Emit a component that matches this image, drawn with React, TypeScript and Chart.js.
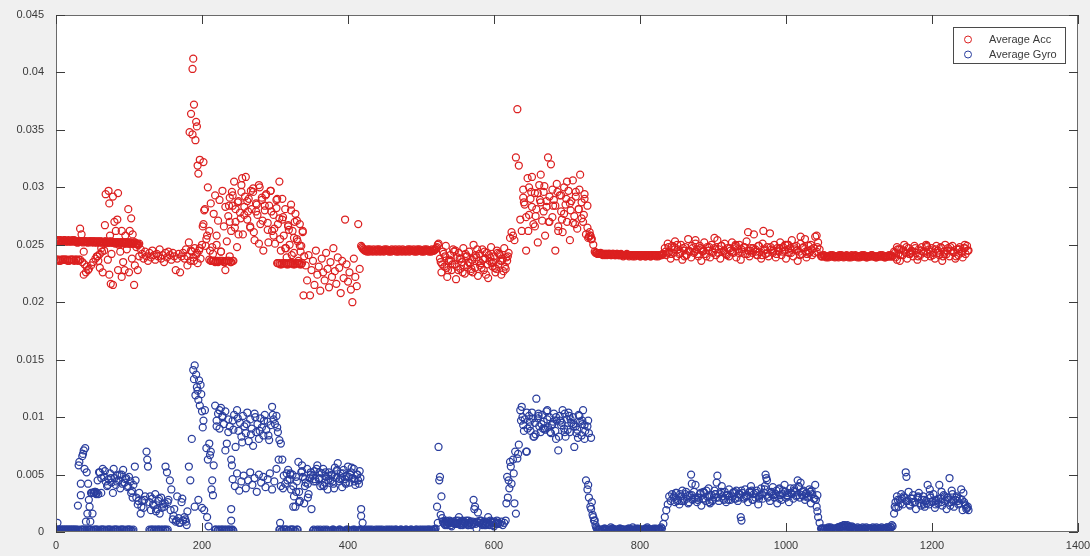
import React, { useEffect, useRef } from "react";
import { Chart, registerables } from "chart.js";

Chart.register(...registerables);

// ---------- data ----------
const SERIES_LABELS = ["Average Acc", "Average Gyro"];
const X_TICKS = [0, 200, 400, 600, 800, 1000, 1200, 1400];
const Y_TICKS = [0, 0.005, 0.01, 0.015, 0.02, 0.025, 0.03, 0.035, 0.04, 0.045];
const SAMPLE_STEP = 2; // main arrays hold one sample every 2 indices, starting at 0

const accY = [
  // 0-114
  0.0254,0.0254,0.0253,0.0254,0.0253,0.0253,0.0254,0.0253,0.0253,0.0253,
  0.0253,0.0254,0.0253,0.0253,0.0253,0.0252,0.0253,0.0253,0.0253,0.0253,
  0.0253,0.0253,0.0252,0.0253,0.0253,0.0253,0.0252,0.0253,0.0252,0.0253,
  0.0252,0.0253,0.0252,0.0252,0.0253,0.0252,0.0252,0.0252,0.0253,0.0252,
  0.0252,0.0252,0.0252,0.0251,0.0252,0.0252,0.0252,0.0251,0.0252,0.0252,
  0.0251,0.0252,0.0251,0.0251,0.0252,0.0251,0.0250,0.0251,
  // 116-172
  0.0246,0.0242,0.0238,0.0244,0.0240,0.0236,0.0243,0.0239,0.0245,0.0241,
  0.0237,0.0242,0.0240,0.0246,0.0238,0.0241,0.0235,0.0243,0.0239,0.0244,
  0.0241,0.0237,0.0243,0.0240,0.0228,0.0238,0.0242,0.0226,0.0240,
  // 174-200
  0.0243,0.0238,0.0246,0.0240,0.0252,0.0236,0.0244,0.0239,0.0247,0.0241,0.0234,0.0245,0.0238,0.0250,
  // 202-234
  0.0268,0.0281,0.0255,0.0300,0.0262,0.0286,0.0248,0.0277,0.0293,0.0258,0.0271,0.0289,0.0244,0.0297,0.0266,0.0283,0.0253,
  // 236-290
  0.0275,0.0291,0.0262,0.0284,0.0305,0.0270,0.0248,0.0288,0.0278,0.0296,
  0.0259,0.0283,0.0309,0.0272,0.0290,0.0265,0.0281,0.0299,0.0254,0.0286,
  0.0276,0.0302,0.0268,0.0289,0.0245,0.0280,0.0294,0.0263,
  // 292-340
  0.0284,0.0297,0.0262,0.0276,0.0251,0.0289,0.0268,0.0305,0.0245,0.0272,
  0.0258,0.0281,0.0239,0.0266,0.0250,0.0285,0.0262,0.0243,0.0277,0.0255,
  0.0236,0.0268,0.0249,0.0261,0.0240,
  // 342-416
  0.0232,0.0219,0.0241,0.0206,0.0228,0.0236,0.0215,0.0245,0.0224,0.0231,
  0.0210,0.0238,0.0226,0.0219,0.0243,0.0229,0.0213,0.0235,0.0222,0.0247,
  0.0227,0.0216,0.0239,0.0230,0.0208,0.0236,0.0221,0.0272,0.0233,0.0218,
  0.0226,0.0211,0.0200,0.0238,0.0222,0.0214,0.0268,0.0229,
  // 418-524
  0.0249,0.0247,0.0246,0.0245,0.0244,0.0245,0.0246,0.0245,0.0244,0.0245,
  0.0245,0.0246,0.0245,0.0244,0.0245,0.0245,0.0246,0.0245,0.0245,0.0244,
  0.0245,0.0246,0.0245,0.0245,0.0244,0.0245,0.0246,0.0245,0.0244,0.0245,
  0.0245,0.0245,0.0246,0.0244,0.0245,0.0245,0.0246,0.0245,0.0244,0.0245,
  0.0246,0.0245,0.0245,0.0244,0.0245,0.0246,0.0245,0.0245,0.0244,0.0245,
  0.0245,0.0246,0.0248,0.0251,
  // 526-620
  0.0238,0.0226,0.0244,0.0231,0.0249,0.0222,0.0236,0.0241,0.0228,0.0246,
  0.0233,0.0220,0.0239,0.0243,0.0229,0.0235,0.0247,0.0225,0.0240,0.0232,
  0.0244,0.0227,0.0237,0.0250,0.0230,0.0239,0.0223,0.0242,0.0234,0.0246,
  0.0228,0.0238,0.0243,0.0221,0.0236,0.0248,0.0231,0.0240,0.0226,0.0245,
  0.0233,0.0241,0.0224,0.0238,0.0247,0.0229,0.0236,0.0243,
  // 622-636
  0.0256,0.0261,0.0258,0.0254,0.0326,0.0368,0.0319,0.0272,
  // 638-736
  0.0262,0.0298,0.0285,0.0245,0.0308,0.0276,0.0290,0.0309,0.0268,0.0295,
  0.0281,0.0252,0.0302,0.0287,0.0271,0.0296,0.0258,0.0283,0.0326,0.0292,
  0.0320,0.0274,0.0289,0.0245,0.0303,0.0266,0.0293,0.0279,0.0261,0.0300,
  0.0285,0.0270,0.0297,0.0254,0.0288,0.0306,0.0275,0.0292,0.0264,0.0281,
  0.0311,0.0287,0.0270,0.0294,0.0259,0.0284,0.0257,0.0258,0.0255,0.0250,
  // 738-832
  0.0244,0.0243,0.0242,0.0242,0.0243,0.0242,0.0242,0.0241,0.0242,0.0242,
  0.0242,0.0241,0.0242,0.0242,0.0241,0.0242,0.0241,0.0241,0.0242,0.0241,
  0.0241,0.0241,0.0242,0.0241,0.0241,0.0241,0.0240,0.0241,0.0241,0.0241,
  0.0241,0.0240,0.0241,0.0241,0.0241,0.0240,0.0241,0.0241,0.0240,0.0241,
  0.0241,0.0241,0.0240,0.0241,0.0241,0.0241,0.0241,0.0242,
  // 834-1046
  0.0247,0.0241,0.0251,0.0244,0.0238,0.0249,0.0243,0.0253,0.0240,0.0246,
  0.0242,0.0250,0.0237,0.0245,0.0248,0.0241,0.0255,0.0244,0.0239,0.0247,
  0.0243,0.0251,0.0246,0.0240,0.0249,0.0236,0.0244,0.0252,0.0242,0.0248,
  0.0245,0.0239,0.0250,0.0243,0.0247,0.0241,0.0254,0.0246,0.0238,0.0249,
  0.0244,0.0251,0.0242,0.0247,0.0240,0.0245,0.0252,0.0243,0.0248,0.0239,
  0.0246,0.0250,0.0237,0.0244,0.0248,0.0242,0.0253,0.0245,0.0240,0.0247,
  0.0243,0.0259,0.0246,0.0241,0.0249,0.0244,0.0238,0.0251,0.0245,0.0242,
  0.0248,0.0240,0.0260,0.0246,0.0243,0.0250,0.0239,0.0247,0.0244,0.0252,
  0.0241,0.0248,0.0245,0.0238,0.0250,0.0243,0.0247,0.0254,0.0240,0.0246,
  0.0249,0.0236,0.0244,0.0251,0.0242,0.0248,0.0255,0.0239,0.0245,0.0243,
  0.0250,0.0241,0.0247,0.0257,0.0244,0.0252,0.0246,
  // 1048-1146
  0.0240,0.0240,0.0241,0.0240,0.0240,0.0239,0.0240,0.0240,0.0241,0.0240,
  0.0240,0.0240,0.0239,0.0240,0.0241,0.0240,0.0240,0.0240,0.0240,0.0239,
  0.0240,0.0241,0.0240,0.0240,0.0240,0.0239,0.0240,0.0240,0.0241,0.0240,
  0.0240,0.0239,0.0240,0.0240,0.0240,0.0241,0.0240,0.0240,0.0239,0.0240,
  0.0240,0.0240,0.0241,0.0240,0.0239,0.0240,0.0240,0.0240,0.0241,0.0240,
  // 1148-1250
  0.0244,0.0239,0.0248,0.0242,0.0236,0.0246,0.0241,0.0250,0.0243,0.0238,
  0.0247,0.0242,0.0245,0.0240,0.0249,0.0243,0.0237,0.0246,0.0241,0.0248,
  0.0244,0.0239,0.0250,0.0242,0.0246,0.0240,0.0247,0.0243,0.0238,0.0249,
  0.0245,0.0241,0.0248,0.0236,0.0244,0.0250,0.0242,0.0247,0.0240,0.0245,
  0.0249,0.0243,0.0238,0.0246,0.0241,0.0248,0.0244,0.0239,0.0247,0.0242,
  0.0249,0.0245,
];

// additional Acc samples that share x positions with the main run: [index, value]
const accExtra: [number, number][] = [
  [0,0.0237],[3,0.0237],[6,0.0236],[9,0.0237],[12,0.0237],[15,0.0237],[18,0.0236],[21,0.0237],[24,0.0237],[27,0.0237],[30,0.0236],[33,0.0237],
  [36,0.0235],[39,0.0233],[42,0.0231],[45,0.0229],[48,0.0232],[51,0.0235],[54,0.0238],[57,0.0240],[60,0.0242],[63,0.0244],[66,0.0245],
  [38,0.0224],[41,0.0226],[44,0.0228],
  [33,0.0264],[35,0.0259],[38,0.0244],[62,0.0247],[67,0.0267],[68,0.0294],[70,0.0252],[71,0.0237],[72,0.0297],[73,0.0286],[74,0.0258],[73,0.0224],
  [75,0.0216],[78,0.0292],[78,0.0215],[80,0.0270],[82,0.0262],[84,0.0272],[85,0.0295],[85,0.0228],[88,0.0244],[90,0.0262],[92,0.0235],[94,0.0228],
  [95,0.0258],[97,0.0246],[99,0.0281],[100,0.0226],[101,0.0262],[103,0.0273],[104,0.0238],[105,0.0259],[107,0.0215],[108,0.0232],[110,0.0248],
  [112,0.0228],[114,0.0240],[56,0.0240],[58,0.0236],[60,0.0230],[64,0.0226],[76,0.0242],[86,0.0250],[90,0.0222],
  [183,0.0348],[185,0.0364],[187,0.0403],[188,0.0412],[187,0.0346],[189,0.0372],[191,0.0341],[192,0.0357],[193,0.0353],[194,0.0319],[195,0.0312],
  [197,0.0324],[202,0.0322],[201,0.0266],[203,0.0280],[180,0.0232],[185,0.0245],[189,0.0236],[193,0.0243],[197,0.0247],
  [210,0.0237],[213,0.0236],[216,0.0236],[219,0.0236],[222,0.0235],[225,0.0236],[228,0.0236],[231,0.0235],[234,0.0236],[237,0.0236],[240,0.0235],[243,0.0236],
  [205,0.0249],[207,0.0258],[211,0.0245],[215,0.0242],[220,0.0250],[226,0.0244],[232,0.0228],[238,0.0240],
  [237,0.0284],[241,0.0296],[245,0.0265],[249,0.0287],[253,0.0273],[255,0.0308],[259,0.0292],[263,0.0279],[267,0.0297],[271,0.0261],[275,0.0285],
  [279,0.0300],[283,0.0271],[287,0.0293],[291,0.0252],[295,0.0279],[299,0.0264],[303,0.0290],[307,0.0255],[311,0.0274],[315,0.0247],[319,0.0263],
  [323,0.0241],[327,0.0270],[331,0.0253],[335,0.0244],[339,0.0206],
  [303,0.0234],[306,0.0234],[309,0.0233],[312,0.0234],[315,0.0234],[318,0.0233],[321,0.0234],[324,0.0234],[327,0.0233],[330,0.0234],[333,0.0234],[336,0.0233],
  [527,0.0235],[531,0.0242],[535,0.0230],[539,0.0237],[543,0.0233],[547,0.0245],[551,0.0228],[555,0.0238],[559,0.0232],[563,0.0240],[567,0.0234],
  [571,0.0226],[575,0.0241],[579,0.0236],[583,0.0230],[587,0.0244],[591,0.0233],[595,0.0239],[599,0.0235],[603,0.0229],[607,0.0242],[611,0.0236],
  [615,0.0231],[619,0.0240],
  [641,0.0287],[647,0.0262],[651,0.0296],[657,0.0275],[663,0.0289],[669,0.0301],[675,0.0270],[681,0.0284],[687,0.0296],[693,0.0272],[699,0.0290],
  [705,0.0280],[711,0.0268],[717,0.0298],[723,0.0276],[729,0.0256],[731,0.0261],[733,0.0255],
  [876,0.0254],[902,0.0256],[948,0.0261],[969,0.0262],[1020,0.0257],[1042,0.0258],[839,0.0243],[847,0.0248],[861,0.0240],[885,0.0246],[917,0.0243],
  [931,0.0249],[961,0.0241],[989,0.0245],[1003,0.0250],[1029,0.0242],
  [1155,0.0246],[1171,0.0243],[1193,0.0248],[1215,0.0240],[1237,0.0246],[1245,0.0250],[1152,0.0237],
];

// further Acc runs that fill in dense stretches: [first index, index step, values]
const accFillRuns: [number, number, number[]][] = [
  [1, 2, [
    0.0254,0.0253,0.0254,0.0253,0.0253,0.0254,0.0253,0.0253,0.0254,0.0253,
    0.0253,0.0253,0.0254,0.0253,0.0252,0.0253,0.0253,0.0253,0.0252,0.0253,
    0.0253,0.0252,0.0253,0.0253,0.0252,0.0253,0.0253,0.0252,0.0253,0.0252,
    0.0253,0.0252,0.0252,0.0253,0.0252,0.0252,0.0253,0.0252,0.0252,0.0252,
    0.0251,0.0252,0.0252,0.0252,0.0251,0.0252,0.0252,0.0251,0.0252,0.0251,
    0.0252,0.0251,0.0251,0.0252,0.0251,0.0251,0.0250]],
  [1, 3, [0.0237,0.0236,0.0237,0.0237,0.0237,0.0236,0.0237,0.0237,0.0236,0.0237,0.0237]],
  [212, 3, [0.0236,0.0236,0.0235,0.0236,0.0236,0.0236,0.0235,0.0236,0.0236,0.0235,0.0236]],
  [304, 3, [0.0234,0.0233,0.0234,0.0234,0.0233,0.0234,0.0234,0.0233,0.0234,0.0234,0.0233,0.0234]],
  [238, 4, [
    0.0270,0.0293,0.0281,0.0259,0.0302,0.0276,0.0288,0.0266,0.0296,0.0279,
    0.0251,0.0291,0.0284,0.0269,0.0297,0.0258,0.0282,0.0273,0.0290,0.0247,
    0.0267,0.0280,0.0256,0.0271,0.0249,0.0262]],
  [419, 2, [
    0.0248,0.0246,0.0245,0.0245,0.0246,0.0244,0.0245,0.0245,0.0246,0.0245,
    0.0244,0.0245,0.0246,0.0245,0.0245,0.0244,0.0245,0.0246,0.0245,0.0245,
    0.0244,0.0245,0.0245,0.0246,0.0245,0.0244,0.0245,0.0245,0.0246,0.0245,
    0.0244,0.0245,0.0245,0.0246,0.0245,0.0245,0.0244,0.0245,0.0246,0.0245,
    0.0245,0.0244,0.0245,0.0246,0.0245,0.0245,0.0244,0.0245,0.0246,0.0245,
    0.0246,0.0247,0.0250]],
  [529, 4, [
    0.0233,0.0240,0.0228,0.0236,0.0244,0.0231,0.0238,0.0226,0.0242,0.0235,
    0.0229,0.0239,0.0246,0.0232,0.0237,0.0224,0.0241,0.0234,0.0230,0.0243,
    0.0236,0.0227,0.0239]],
  [640, 4, [
    0.0291,0.0274,0.0300,0.0283,0.0266,0.0295,0.0311,0.0279,0.0288,0.0270,
    0.0298,0.0284,0.0262,0.0293,0.0277,0.0305,0.0286,0.0269,0.0296,0.0281,
    0.0273,0.0290,0.0265,0.0258]],
  [739, 2, [
    0.0243,0.0243,0.0242,0.0242,0.0242,0.0241,0.0242,0.0242,0.0241,0.0242,
    0.0242,0.0241,0.0242,0.0241,0.0241,0.0242,0.0241,0.0241,0.0241,0.0240,
    0.0241,0.0241,0.0241,0.0240,0.0241,0.0241,0.0241,0.0240,0.0241,0.0241,
    0.0241,0.0240,0.0241,0.0241,0.0240,0.0241,0.0241,0.0241,0.0240,0.0241,
    0.0241,0.0241,0.0241,0.0240,0.0241,0.0241,0.0242]],
  [835, 4, [
    0.0244,0.0248,0.0242,0.0246,0.0250,0.0243,0.0247,0.0241,0.0245,0.0249,
    0.0244,0.0242,0.0247,0.0245,0.0240,0.0248,0.0244,0.0246,0.0243,0.0249,
    0.0245,0.0241,0.0247,0.0244,0.0250,0.0243,0.0246,0.0248,0.0242,0.0245,
    0.0247,0.0244,0.0249,0.0241,0.0246,0.0243,0.0248,0.0245,0.0242,0.0247,
    0.0244,0.0250,0.0246,0.0243,0.0248,0.0245,0.0241,0.0247,0.0244,0.0249,
    0.0246,0.0243,0.0248]],
  [1049, 2, [
    0.0240,0.0241,0.0240,0.0239,0.0240,0.0240,0.0241,0.0240,0.0240,0.0239,
    0.0240,0.0240,0.0241,0.0240,0.0240,0.0239,0.0240,0.0241,0.0240,0.0240,
    0.0239,0.0240,0.0240,0.0241,0.0240,0.0240,0.0239,0.0240,0.0240,0.0241,
    0.0240,0.0239,0.0240,0.0240,0.0241,0.0240,0.0240,0.0239,0.0240,0.0240,
    0.0241,0.0240,0.0240,0.0239,0.0240,0.0240,0.0241,0.0240,0.0240]],
  [1149, 4, [
    0.0243,0.0246,0.0241,0.0245,0.0248,0.0242,0.0244,0.0247,0.0240,0.0245,
    0.0243,0.0249,0.0244,0.0241,0.0246,0.0243,0.0247,0.0242,0.0245,0.0248,
    0.0244,0.0240,0.0246,0.0243,0.0247,0.0245]],
];

const gyroY = [
  // 0-28
  0.0002,0.0008,0.0002,0.0001,0.0002,0.0002,0.0001,0.0002,0.0002,0.0001,0.0002,0.0002,0.0001,0.0002,0.0002,
  // 30-44
  0.0023,0.0061,0.0042,0.0066,0.0071,0.0073,0.0052,0.0042,
  // 46-64
  0.0022,0.0034,0.0016,0.0034,0.0035,0.0034,0.0033,0.0052,0.0034,0.0055,
  // 66-106
  0.0048,0.0044,0.0040,0.0046,0.0051,0.0043,0.0034,0.0047,0.0041,0.0049,
  0.0045,0.0038,0.0050,0.0054,0.0043,0.0047,0.0039,0.0048,0.0044,0.0036,0.0041,
  // 108-146
  0.0057,0.0030,0.0024,0.0034,0.0016,0.0027,0.0021,0.0031,0.0070,0.0057,
  0.0026,0.0019,0.0029,0.0023,0.0033,0.0020,0.0027,0.0016,0.0030,0.0024,
  // 148-158
  0.0022,0.0057,0.0052,0.0028,0.0045,0.0037,
  // 160-180
  0.0011,0.0020,0.0009,0.0031,0.0012,0.0008,0.0026,0.0010,0.0013,0.0009,0.0018,
  // 182-186
  0.0057,0.0045,0.0081,
  // 188-204
  0.0141,0.0145,0.0137,0.0123,0.0132,0.0128,0.0105,0.0097,0.0106,
  // 206-216
  0.0073,0.0063,0.0077,0.0070,0.0045,0.0058,
  // 218-238
  0.0110,0.0097,0.0103,0.0090,0.0108,0.0100,0.0094,0.0105,0.0077,0.0098,0.0092,
  // 240-294
  0.0063,0.0097,0.0102,0.0074,0.0106,0.0088,0.0095,0.0083,0.0101,0.0092,
  0.0086,0.0104,0.0079,0.0098,0.0090,0.0075,0.0103,0.0087,0.0094,0.0081,
  0.0099,0.0091,0.0084,0.0102,0.0089,0.0096,0.0080,0.0093,
  // 296-316
  0.0109,0.0098,0.0094,0.0101,0.0087,0.0080,0.0077,0.0063,0.0049,0.0042,0.0051,
  // 318-350
  0.0054,0.0046,0.0037,0.0050,0.0031,0.0022,0.0044,0.0061,0.0027,0.0052,
  0.0048,0.0025,0.0043,0.0055,0.0033,0.0047,0.0020,
  // 352-420
  0.0049,0.0053,0.0044,0.0058,0.0046,0.0040,0.0051,0.0055,0.0043,0.0048,
  0.0037,0.0052,0.0045,0.0050,0.0042,0.0056,0.0047,0.0060,0.0044,0.0051,
  0.0039,0.0054,0.0046,0.0049,0.0057,0.0043,0.0052,0.0047,0.0055,0.0041,
  0.0050,0.0045,0.0053,0.0020,0.0008,
  // 422-520
  0.0001,0.0002,0.0001,0.0001,0.0002,0.0001,0.0001,0.0001,0.0002,0.0001,
  0.0001,0.0002,0.0001,0.0001,0.0001,0.0002,0.0001,0.0001,0.0002,0.0001,
  0.0001,0.0001,0.0002,0.0001,0.0001,0.0002,0.0001,0.0001,0.0001,0.0002,
  0.0001,0.0001,0.0002,0.0001,0.0001,0.0001,0.0002,0.0001,0.0002,0.0001,
  0.0001,0.0002,0.0001,0.0001,0.0002,0.0001,0.0002,0.0001,0.0002,0.0003,
  // 522-528
  0.0022,0.0074,0.0048,0.0031,
  // 530-606
  0.0009,0.0007,0.0010,0.0006,0.0008,0.0009,0.0005,0.0008,0.0007,0.0010,
  0.0008,0.0013,0.0006,0.0009,0.0007,0.0008,0.0010,0.0006,0.0008,0.0009,
  0.0007,0.0028,0.0022,0.0003,0.0017,0.0008,0.0010,0.0006,0.0009,0.0007,
  0.0008,0.0013,0.0006,0.0009,0.0008,0.0005,0.0007,0.0010,0.0008,
  // 608-624
  0.0007,0.0009,0.0006,0.0008,0.0010,0.0048,0.0045,0.0061,0.0042,
  // 626-634
  0.0063,0.0025,0.0016,0.0064,0.0076,
  // 636-736
  0.0106,0.0109,0.0093,0.0098,0.0070,0.0090,0.0101,0.0088,0.0104,0.0083,
  0.0095,0.0116,0.0099,0.0092,0.0087,0.0102,0.0096,0.0089,0.0105,0.0091,
  0.0100,0.0086,0.0094,0.0103,0.0088,0.0097,0.0071,0.0101,0.0093,0.0106,
  0.0090,0.0083,0.0098,0.0104,0.0087,0.0095,0.0100,0.0074,0.0092,0.0089,
  0.0102,0.0096,0.0084,0.0106,0.0093,
  0.0045,0.0037,0.0030,0.0022,0.0026,0.0013,
  // 738-830
  0.0010,0.0004,0.0002,0.0002,0.0001,0.0002,0.0002,0.0003,0.0002,0.0001,
  0.0002,0.0002,0.0003,0.0002,0.0002,0.0001,0.0002,0.0003,0.0002,0.0002,
  0.0002,0.0001,0.0002,0.0003,0.0002,0.0002,0.0002,0.0001,0.0002,0.0002,
  0.0003,0.0002,0.0002,0.0001,0.0002,0.0002,0.0003,0.0002,0.0002,0.0002,
  0.0001,0.0002,0.0003,0.0002,0.0002,0.0002,0.0003,
  // 832-844
  0.0007,0.0013,0.0019,0.0024,0.0031,0.0027,0.0033,
  // 846-936
  0.0030,0.0026,0.0034,0.0028,0.0024,0.0031,0.0036,0.0027,0.0033,0.0029,
  0.0025,0.0032,0.0050,0.0028,0.0035,0.0041,0.0026,0.0030,0.0033,0.0023,
  0.0029,0.0034,0.0027,0.0031,0.0038,0.0025,0.0032,0.0028,0.0036,0.0030,
  0.0049,0.0027,0.0033,0.0040,0.0029,0.0035,0.0026,0.0032,0.0037,0.0028,
  0.0031,0.0034,0.0029,0.0036,0.0027,0.0033,
  // 938-1046
  0.0013,0.0034,0.0029,0.0037,0.0031,0.0026,0.0035,0.0040,0.0028,0.0033,
  0.0030,0.0036,0.0024,0.0032,0.0038,0.0029,0.0034,0.0050,0.0045,0.0031,
  0.0027,0.0035,0.0039,0.0030,0.0033,0.0025,0.0037,0.0032,0.0028,0.0036,
  0.0041,0.0030,0.0034,0.0026,0.0038,0.0033,0.0029,0.0035,0.0031,0.0045,
  0.0039,0.0043,0.0032,0.0036,0.0028,0.0034,0.0030,0.0037,0.0025,0.0033,
  0.0029,0.0041,0.0022,0.0013,0.0008,
  // 1048-1146
  0.0003,0.0003,0.0002,0.0003,0.0003,0.0004,0.0003,0.0003,0.0002,0.0003,
  0.0003,0.0003,0.0004,0.0003,0.0005,0.0004,0.0006,0.0005,0.0006,0.0005,
  0.0004,0.0005,0.0004,0.0003,0.0003,0.0004,0.0003,0.0003,0.0002,0.0003,
  0.0003,0.0004,0.0003,0.0003,0.0003,0.0002,0.0003,0.0003,0.0004,0.0003,
  0.0003,0.0003,0.0002,0.0003,0.0003,0.0004,0.0003,0.0003,0.0004,0.0005,
  // 1148-1250
  0.0016,0.0026,0.0031,0.0022,0.0028,0.0033,0.0024,0.0030,0.0052,0.0027,
  0.0035,0.0023,0.0029,0.0032,0.0026,0.0020,0.0030,0.0034,0.0025,0.0028,
  0.0031,0.0022,0.0027,0.0041,0.0024,0.0030,0.0026,0.0033,0.0021,0.0028,
  0.0025,0.0041,0.0029,0.0023,0.0032,0.0027,0.0020,0.0030,0.0047,0.0026,
  0.0033,0.0022,0.0028,0.0031,0.0024,0.0029,0.0037,0.0019,0.0026,0.0023,
  0.0021,0.0019,
];

// additional Gyro samples that share x positions with the main run: [index, value]
const gyroExtra: [number, number][] = [
  [30,0.0002],[33,0.0001],[36,0.0002],[39,0.0002],[42,0.0001],[45,0.0002],[48,0.0002],[51,0.0001],[54,0.0002],[57,0.0002],[60,0.0001],[63,0.0002],
  [66,0.0002],[69,0.0001],[72,0.0002],[75,0.0002],[78,0.0001],[81,0.0002],[84,0.0002],[87,0.0001],[90,0.0002],[93,0.0002],[96,0.0001],[99,0.0002],
  [102,0.0002],[105,0.0001],
  [31,0.0058],[34,0.0032],[37,0.0068],[39,0.0055],[41,0.0009],[43,0.0016],[45,0.0028],[47,0.0009],[49,0.0034],[51,0.0034],[53,0.0035],[55,0.0033],
  [57,0.0045],[59,0.0052],[62,0.0047],
  [67,0.0053],[71,0.0041],[75,0.0047],[79,0.0055],[83,0.0044],[87,0.0050],[91,0.0042],[95,0.0046],[99,0.0040],[103,0.0034],[105,0.0030],
  [109,0.0045],[113,0.0027],[117,0.0022],[121,0.0028],[125,0.0063],[129,0.0031],[133,0.0024],[137,0.0018],[141,0.0029],[145,0.0021],[149,0.0025],
  [153,0.0026],[157,0.0019],[161,0.0014],[165,0.0010],[169,0.0008],[173,0.0029],[177,0.0011],[179,0.0006],
  [128,0.0002],[131,0.0002],[134,0.0001],[137,0.0002],[140,0.0002],[143,0.0001],[146,0.0002],[149,0.0002],[152,0.0001],
  [189,0.0133],[191,0.0119],[193,0.0126],[195,0.0115],[197,0.0110],[199,0.0120],[201,0.0091],[190,0.0022],[195,0.0028],[200,0.0021],[203,0.0019],
  [207,0.0013],[209,0.0005],[211,0.0067],[213,0.0037],[215,0.0032],
  [218,0.0002],[221,0.0001],[224,0.0002],[227,0.0002],[230,0.0001],[233,0.0002],[236,0.0002],[239,0.0001],[242,0.0002],
  [220,0.0092],[224,0.0106],[228,0.0101],[232,0.0071],[236,0.0087],[240,0.0020],[240,0.0010],[241,0.0058],
  [242,0.0046],[245,0.0040],[248,0.0051],[251,0.0036],[254,0.0044],[257,0.0049],[260,0.0038],[263,0.0045],[266,0.0052],[269,0.0041],[272,0.0047],
  [275,0.0035],[278,0.0050],[281,0.0043],[284,0.0048],[287,0.0039],[290,0.0046],[293,0.0051],[296,0.0037],[299,0.0044],[302,0.0055],[305,0.0063],
  [308,0.0040],[311,0.0038],
  [243,0.0089],[249,0.0099],[255,0.0078],[261,0.0094],[267,0.0085],[273,0.0100],[279,0.0088],[285,0.0097],[291,0.0084],[297,0.0102],[303,0.0091],
  [306,0.0002],[309,0.0001],[312,0.0002],[315,0.0002],[318,0.0001],[321,0.0002],[324,0.0002],[327,0.0001],[330,0.0002],[307,0.0008],
  [352,0.0001],[355,0.0001],[358,0.0002],[361,0.0001],[364,0.0001],[367,0.0002],[370,0.0001],[373,0.0001],[376,0.0001],[379,0.0002],[382,0.0001],
  [385,0.0001],[388,0.0002],[391,0.0001],[394,0.0001],[397,0.0001],[400,0.0002],[403,0.0001],[406,0.0001],[409,0.0002],[412,0.0001],[415,0.0001],
  [418,0.0002],
  [321,0.0050],[325,0.0022],[329,0.0035],[333,0.0026],[337,0.0058],[341,0.0040],[345,0.0030],[349,0.0052],[355,0.0046],[361,0.0052],[367,0.0040],
  [373,0.0049],[379,0.0044],[385,0.0053],[391,0.0047],[397,0.0042],[403,0.0050],[409,0.0046],[415,0.0042],[418,0.0014],
  [523,0.0008],[525,0.0045],[527,0.0015],[529,0.0012],
  [533,0.0006],[541,0.0009],[549,0.0007],[557,0.0010],[565,0.0006],[573,0.0020],[581,0.0008],[589,0.0006],[597,0.0009],[605,0.0007],
  [617,0.0025],[619,0.0030],[621,0.0038],[623,0.0057],[627,0.0051],[629,0.0070],[633,0.0068],
  [639,0.0100],[645,0.0070],[649,0.0096],[655,0.0083],[661,0.0103],[667,0.0090],[673,0.0098],[679,0.0093],[685,0.0081],[691,0.0097],[697,0.0087],
  [703,0.0101],[709,0.0094],[715,0.0082],[721,0.0097],[724,0.0081],[728,0.0092],[730,0.0086],[729,0.0041],[733,0.0020],[735,0.0015],[737,0.0010],
  [760,0.0004],[790,0.0004],[810,0.0004],
  [849,0.0034],[857,0.0027],[865,0.0031],[871,0.0042],[879,0.0030],[887,0.0035],[895,0.0026],[903,0.0033],[905,0.0043],[913,0.0031],[921,0.0028],
  [929,0.0035],[935,0.0030],
  [939,0.0010],[945,0.0031],[953,0.0036],[963,0.0029],[971,0.0040],[973,0.0047],[981,0.0033],[991,0.0038],[1001,0.0032],[1011,0.0036],[1017,0.0040],
  [1025,0.0031],[1033,0.0035],[1041,0.0028],[1043,0.0018],
  [1151,0.0021],[1159,0.0029],[1165,0.0048],[1173,0.0026],[1181,0.0031],[1189,0.0024],[1197,0.0037],[1205,0.0027],[1213,0.0035],[1221,0.0030],
  [1227,0.0036],[1235,0.0027],[1243,0.0034],[1247,0.0020],
];

// further Gyro runs that fill in dense stretches: [first index, index step, values]
const gyroFillRuns: [number, number, number[]][] = [
  [1, 2, [0.0002,0.0001,0.0002,0.0002,0.0001,0.0002,0.0002,0.0001,0.0002,0.0002,0.0001,0.0002,0.0002,0.0001]],
  [31, 3, [
    0.0001,0.0002,0.0002,0.0001,0.0002,0.0002,0.0001,0.0002,0.0002,0.0001,
    0.0002,0.0002,0.0001,0.0002,0.0002,0.0001,0.0002,0.0002,0.0001,0.0002,
    0.0002,0.0001,0.0002,0.0002,0.0001,0.0002]],
  [129, 3, [0.0001,0.0002,0.0002,0.0001,0.0002,0.0002,0.0001,0.0002,0.0002]],
  [219, 3, [0.0002,0.0002,0.0001,0.0002,0.0002,0.0001,0.0002,0.0002,0.0001]],
  [307, 3, [0.0002,0.0001,0.0002,0.0002,0.0001,0.0002,0.0002,0.0001,0.0002]],
  [317, 4, [
    0.0045,0.0051,0.0040,0.0048,0.0035,0.0053,0.0046,0.0042,0.0050,0.0044,
    0.0055,0.0047,0.0041,0.0052,0.0045,0.0049,0.0038,0.0054,0.0046,0.0051,
    0.0043,0.0048,0.0056,0.0044,0.0050,0.0047]],
  [353, 3, [
    0.0002,0.0001,0.0001,0.0002,0.0001,0.0001,0.0002,0.0001,0.0001,0.0002,
    0.0001,0.0001,0.0002,0.0001,0.0001,0.0002,0.0001,0.0001,0.0002,0.0001,
    0.0001,0.0002,0.0001]],
  [423, 2, [
    0.0001,0.0001,0.0002,0.0001,0.0001,0.0002,0.0001,0.0001,0.0001,0.0002,
    0.0001,0.0001,0.0002,0.0001,0.0001,0.0001,0.0002,0.0001,0.0001,0.0002,
    0.0001,0.0002,0.0001,0.0001,0.0001,0.0002,0.0001,0.0001,0.0002,0.0001,
    0.0001,0.0001,0.0002,0.0001,0.0001,0.0002,0.0001,0.0001,0.0001,0.0002,
    0.0001,0.0001,0.0002,0.0001,0.0002,0.0001,0.0001,0.0002,0.0002]],
  [531, 2, [
    0.0008,0.0009,0.0007,0.0008,0.0010,0.0006,0.0008,0.0009,0.0007,0.0008,
    0.0010,0.0007,0.0008,0.0006,0.0009,0.0008,0.0007,0.0010,0.0008,0.0006,
    0.0009,0.0008,0.0007,0.0009,0.0008,0.0010,0.0007,0.0008,0.0006,0.0009,
    0.0008,0.0007,0.0010,0.0008,0.0006,0.0009,0.0008,0.0007]],
  [637, 4, [
    0.0097,0.0088,0.0104,0.0092,0.0099,0.0085,0.0101,0.0094,0.0090,0.0106,
    0.0087,0.0096,0.0100,0.0083,0.0095,0.0103,0.0089,0.0098,0.0092,0.0086,
    0.0101,0.0094,0.0088,0.0097,0.0082]],
  [739, 2, [
    0.0006,0.0003,0.0002,0.0002,0.0001,0.0002,0.0003,0.0002,0.0002,0.0001,
    0.0002,0.0002,0.0003,0.0002,0.0001,0.0002,0.0002,0.0003,0.0002,0.0002,
    0.0001,0.0002,0.0002,0.0003,0.0002,0.0002,0.0001,0.0002,0.0003,0.0002,
    0.0002,0.0002,0.0001,0.0002,0.0003,0.0002,0.0002,0.0001,0.0002,0.0002,
    0.0003,0.0002,0.0002,0.0002,0.0003,0.0004]],
  [847, 4, [
    0.0031,0.0027,0.0033,0.0029,0.0035,0.0026,0.0032,0.0030,0.0028,0.0034,
    0.0029,0.0036,0.0031,0.0027,0.0033,0.0030,0.0035,0.0028,0.0032,0.0031,
    0.0034,0.0029,0.0033,0.0036,0.0030,0.0032,0.0035,0.0028,0.0034,0.0031,
    0.0033,0.0037,0.0030,0.0034,0.0032,0.0036,0.0029,0.0033,0.0035,0.0031,
    0.0034,0.0038,0.0032,0.0030,0.0035,0.0033,0.0031,0.0036,0.0029,0.0032]],
  [1049, 2, [
    0.0003,0.0003,0.0003,0.0002,0.0003,0.0003,0.0004,0.0003,0.0003,0.0002,
    0.0003,0.0004,0.0004,0.0005,0.0005,0.0006,0.0005,0.0005,0.0004,0.0004,
    0.0004,0.0003,0.0003,0.0003,0.0002,0.0003,0.0003,0.0003,0.0004,0.0003,
    0.0003,0.0002,0.0003,0.0003,0.0003,0.0004,0.0003,0.0003,0.0002,0.0003,
    0.0003,0.0004,0.0003,0.0003,0.0003,0.0004,0.0003,0.0004,0.0006]],
  [1149, 4, [
    0.0022,0.0028,0.0025,0.0031,0.0027,0.0024,0.0029,0.0026,0.0030,0.0023,
    0.0028,0.0025,0.0032,0.0027,0.0024,0.0029,0.0026,0.0031,0.0028,0.0023,
    0.0027,0.0030,0.0025,0.0028,0.0024,0.0022]],
];

// ---------- styling ----------
const ACC_COLOR = "rgb(220,32,32)";
const GYRO_COLOR = "rgb(42,62,158)";
const FONT_FAMILY = '"Liberation Sans", Arial, Helvetica, sans-serif';
const TEXT_COLOR = "#3a3a3a";
const AXIS_COLOR = "#6a6a6a";

function toPoints(main: number[], extra: [number, number][], runs: [number, number, number[]][]) {
  const pts = main.map((y, i) => ({ x: i * SAMPLE_STEP, y }));
  extra.forEach(([x, y]) => pts.push({ x, y }));
  runs.forEach(([start, step, vals]) => vals.forEach((y, k) => pts.push({ x: start + k * step, y })));
  return pts;
}

const matlabFrame = {
  id: "matlabFrame",
  beforeDraw(chart: any) {
    const { ctx, chartArea: a } = chart;
    ctx.save();
    ctx.fillStyle = "#f0f0f0";
    ctx.fillRect(0, 0, chart.width, chart.height);
    ctx.fillStyle = "#ffffff";
    ctx.fillRect(a.left, a.top, a.right - a.left, a.bottom - a.top);
    ctx.restore();
  },
  afterDraw(chart: any) {
    const { ctx, chartArea: a, scales } = chart;
    ctx.save();
    ctx.strokeStyle = AXIS_COLOR;
    ctx.lineWidth = 1;
    ctx.strokeRect(a.left + 0.5, a.top + 0.5, a.right - a.left - 1, a.bottom - a.top - 1);
    const TL = 9;
    ctx.strokeStyle = "#3c3c3c";
    ctx.beginPath();
    scales.x.ticks.forEach((t: any) => {
      const px = Math.round(scales.x.getPixelForValue(t.value)) + 0.5;
      ctx.moveTo(px, a.bottom);
      ctx.lineTo(px, a.bottom - TL);
      ctx.moveTo(px, a.top);
      ctx.lineTo(px, a.top + TL);
    });
    scales.y.ticks.forEach((t: any) => {
      const py = Math.round(scales.y.getPixelForValue(t.value)) + 0.5;
      ctx.moveTo(a.left, py);
      ctx.lineTo(a.left + TL, py);
      ctx.moveTo(a.right, py);
      ctx.lineTo(a.right - TL, py);
    });
    ctx.stroke();

    // legend box, top-right inside the axes
    ctx.font = `11px ${FONT_FAMILY}`;
    const items = chart.data.datasets.map((d: any) => ({ label: d.label, color: d.borderColor }));
    const maxW = Math.max(...items.map((it: any) => ctx.measureText(it.label).width));
    const boxW = Math.round(36 + maxW + 8);
    const boxH = 36;
    const boxR = a.right - 13;
    const boxL = boxR - boxW;
    const boxT = a.top + 12;
    ctx.fillStyle = "#ffffff";
    ctx.fillRect(boxL, boxT, boxW, boxH);
    ctx.strokeStyle = "#4a4a4a";
    ctx.strokeRect(boxL + 0.5, boxT + 0.5, boxW, boxH);
    items.forEach((it: any, k: number) => {
      const cy = boxT + 12.5 + k * 15;
      ctx.beginPath();
      ctx.strokeStyle = it.color;
      ctx.lineWidth = 1;
      ctx.arc(boxL + 15, cy, 3.5, 0, Math.PI * 2);
      ctx.stroke();
      ctx.fillStyle = TEXT_COLOR;
      ctx.textBaseline = "middle";
      ctx.textAlign = "left";
      ctx.fillText(it.label, boxL + 36, cy + 0.5);
    });
    ctx.restore();
  },
};

export default function App() {
  const canvasRef = useRef<HTMLCanvasElement | null>(null);

  useEffect(() => {
    if (!canvasRef.current) return;
    const tickFont = { family: FONT_FAMILY, size: 11 };
    const pointStyle = {
      backgroundColor: "rgba(0,0,0,0)",
      pointRadius: 3.5,
      pointHoverRadius: 3.5,
      pointBorderWidth: 1.25,
      pointStyle: "circle",
    };
    const chart = new Chart(canvasRef.current, {
      type: "scatter",
      data: {
        datasets: [
          { label: SERIES_LABELS[0], data: toPoints(accY, accExtra, accFillRuns), borderColor: ACC_COLOR, ...pointStyle },
          { label: SERIES_LABELS[1], data: toPoints(gyroY, gyroExtra, gyroFillRuns), borderColor: GYRO_COLOR, ...pointStyle },
        ],
      },
      options: {
        animation: false,
        responsive: false,
        devicePixelRatio: 1,
        layout: { padding: { left: 0, right: 12, top: 15, bottom: 0 } },
        plugins: {
          legend: { display: false },
          tooltip: { enabled: false },
        },
        scales: {
          x: {
            type: "linear",
            min: 0,
            max: 1400,
            grid: { display: false, drawTicks: false },
            border: { display: false },
            ticks: {
              font: tickFont,
              color: TEXT_COLOR,
              padding: 7,
              maxRotation: 0,
              autoSkip: false,
              callback: (v: any) => String(v),
            },
            afterBuildTicks: (s: any) => {
              s.ticks = X_TICKS.map((value) => ({ value }));
            },
            afterFit: (s: any) => {
              s.height = 24;
              s.paddingLeft = 0;
              s.paddingRight = 0;
            },
          },
          y: {
            type: "linear",
            min: 0,
            max: 0.045,
            grid: { display: false, drawTicks: false },
            border: { display: false },
            ticks: {
              font: tickFont,
              color: TEXT_COLOR,
              padding: 12,
              autoSkip: false,
              callback: (v: any) => String(Number(Number(v).toFixed(3))),
            },
            afterBuildTicks: (s: any) => {
              s.ticks = Y_TICKS.map((value) => ({ value }));
            },
            afterFit: (s: any) => {
              s.width = 56;
              s.paddingTop = 0;
              s.paddingBottom = 0;
            },
          },
        },
      },
      plugins: [matlabFrame],
    });
    return () => chart.destroy();
  }, []);

  return (
    <div style={{ position: "fixed", left: 0, top: 0, width: 1090, height: 556, background: "#f0f0f0" }}>
      <canvas ref={canvasRef} width={1090} height={556} style={{ display: "block" }} />
    </div>
  );
}
